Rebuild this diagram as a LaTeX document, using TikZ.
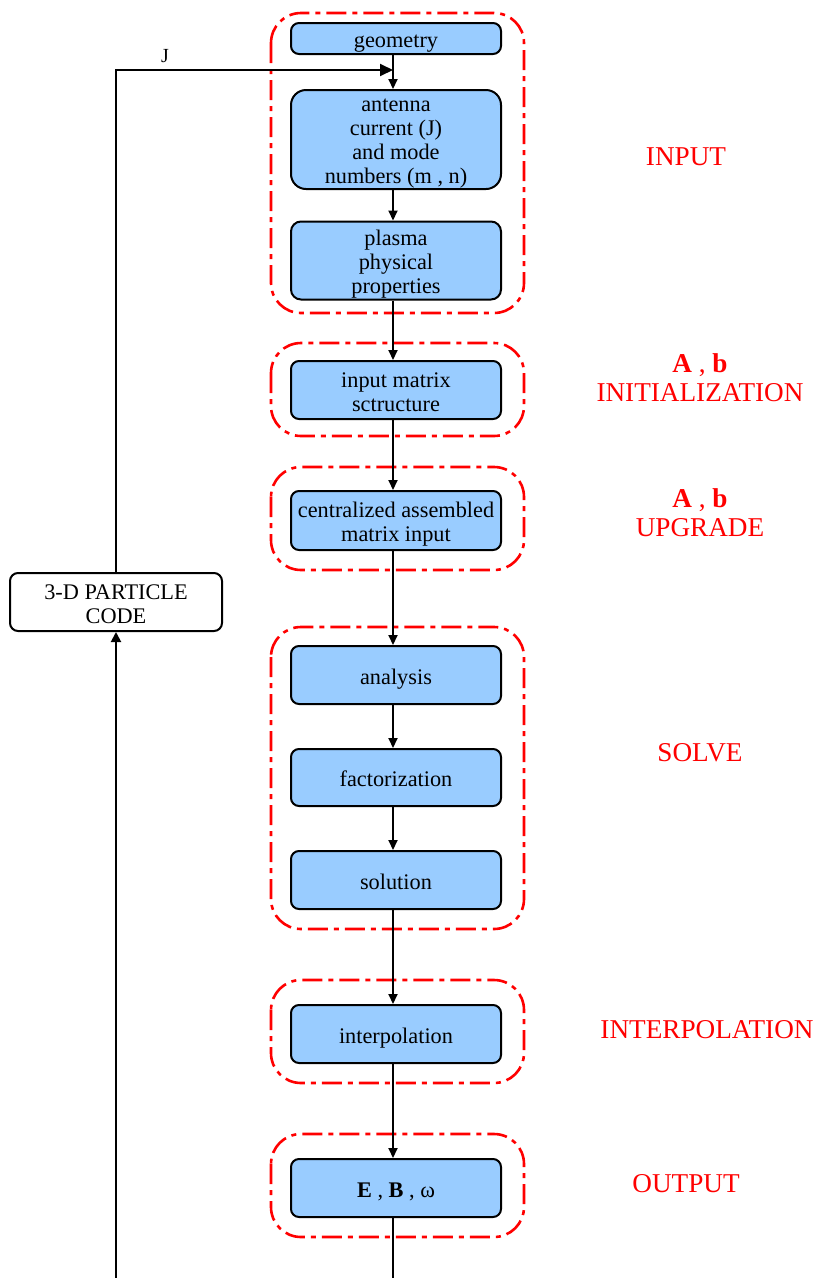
\documentclass[tikz,border=0pt]{standalone}
\usepackage{fontspec}
\setmainfont{Liberation Serif}
\usetikzlibrary{arrows.meta,calc}
\definecolor{boxblue}{HTML}{99CCFF}
\newcommand\topstrut{\rule{0pt}{24pt}}
\begin{document}
\begin{tikzpicture}[x=1pt,y=-1pt,
  stagebox/.style={draw, line width=2pt, fill=boxblue, rounded corners=8pt,
    minimum width=210pt, align=center, inner sep=0pt,
    font=\fontsize{22.3}{24}\selectfont,
    execute at end node={\rule[-6pt]{0pt}{6pt}}},
  frame/.style={draw=red, line width=2.6pt,
    dash pattern=on 20pt off 6pt on 5pt off 6pt, rounded corners=30pt},
  lab/.style={text=red, align=center, font=\fontsize{27.2}{29}\selectfont},
  conn/.style={line width=1.9pt, -{Triangle[length=10pt,width=9pt]}},
  plain/.style={line width=1.9pt}]
\useasboundingbox (0,0) rectangle (820,1278);

% frames
\draw[frame] (271,13) rectangle (524,313);
\draw[frame] (271,343) rectangle (524,436);
\draw[frame] (271,467) rectangle (524,570);
\draw[frame] (271,627) rectangle (524,929);
\draw[frame] (271,980) rectangle (524,1083);
\draw[frame] (271,1134) rectangle (524,1237);

% boxes
\node[stagebox, minimum height=31pt] (geo) at (396,38.5) {\topstrut geometry};
\node[stagebox, minimum height=99pt, rounded corners=15pt] (ant) at (396,139.5)
  {\rule{0pt}{21pt}antenna\\current (J)\\and mode\\numbers (m , n)};
\node[stagebox, minimum height=77pt, rounded corners=10pt] (pla) at (396,260.5)
  {\topstrut plasma\\physical\\properties};
\node[stagebox, minimum height=58pt] (inm) at (396,390) {\topstrut input matrix\\sctructure};
\node[stagebox, minimum height=59pt] (cen) at (396,520.5) {\topstrut centralized assembled\\matrix input};
\node[stagebox, minimum height=58pt] (ana) at (396,675) {\topstrut analysis};
\node[stagebox, minimum height=57pt] (fac) at (396,777.5) {\topstrut factorization};
\node[stagebox, minimum height=58pt] (sol) at (396,880) {\topstrut solution};
\node[stagebox, minimum height=58pt] (int) at (396,1034) {\topstrut interpolation};
\node[stagebox, minimum height=58pt] (out) at (396,1188) {\topstrut\textbf{E} , \textbf{B} , ω};

\node[stagebox, fill=white, minimum width=212pt, minimum height=58pt] (pc) at (116,602)
  {\topstrut 3-D PARTICLE\\CODE};

% labels
\node[lab] (lin) at (686,157) {INPUT};
\node[lab] (lini) at (700,378) {\textbf{A} , \textbf{b}\\INITIALIZATION};
\node[lab] (lupg) at (700,513) {\textbf{A} , \textbf{b}\\UPGRADE};
\node[lab] (lsol) at (700,753) {SOLVE};
\node[lab] (lint) at (707,1030) {INTERPOLATION};
\node[lab] (lout) at (686,1184) {OUTPUT};

% connectors
\draw[conn] (geo.south -| 393,0) -- (ant.north -| 393,0);
\draw[conn] (ant.south -| 393,0) -- (pla.north -| 393,0);
\draw[conn] (pla.south -| 393,0) -- (inm.north -| 393,0);
\draw[conn] (inm.south -| 393,0) -- (cen.north -| 393,0);
\draw[conn] (cen.south -| 393,0) -- (ana.north -| 393,0);
\draw[conn] (ana.south -| 393,0) -- (fac.north -| 393,0);
\draw[conn] (fac.south -| 393,0) -- (sol.north -| 393,0);
\draw[conn] (sol.south -| 393,0) -- (int.north -| 393,0);
\draw[conn] (int.south -| 393,0) -- (out.north -| 393,0);

\coordinate (jhit) at (393,70);
\coordinate (botR) at (393,1278);
\coordinate (botL) at (116,1278);
\draw[plain] (out.south -| 393,0) -- (botR);
\draw[line width=1.9pt, -{Triangle[length=13pt,width=12pt]}] (pc.north) |- (jhit);
\node[font=\fontsize{20}{22}\selectfont] (jl) at (165,56) {J};
\draw[line width=1.9pt, -{Triangle[length=10pt,width=10pt]}] (botL) -- (pc.south);
\end{tikzpicture}
\end{document}
